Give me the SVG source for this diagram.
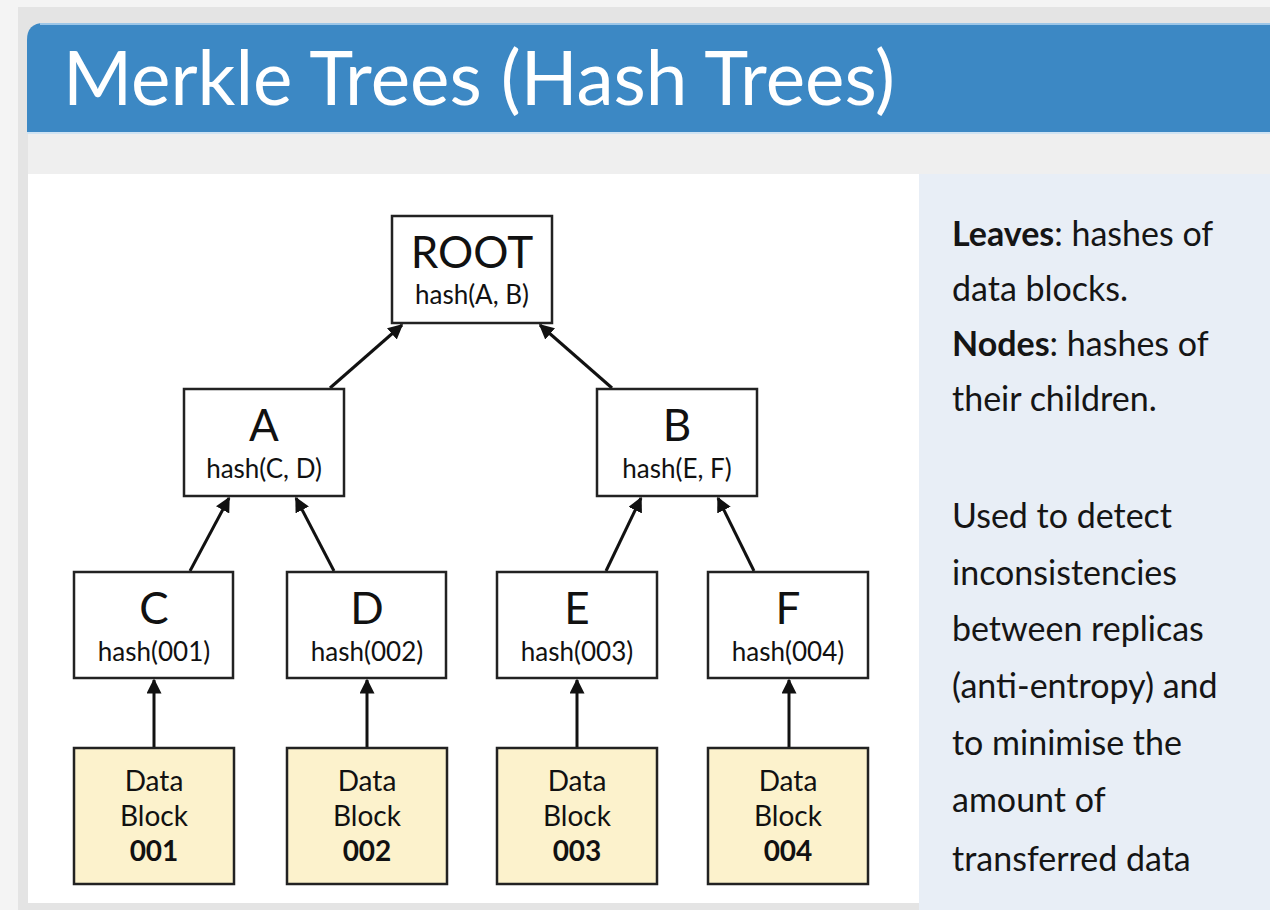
<svg xmlns="http://www.w3.org/2000/svg" width="1270" height="910" viewBox="0 0 1270 910">
  <defs>
    <marker id="arrow" viewBox="0 0 10 10" refX="9" refY="5" markerWidth="5" markerHeight="5" markerUnits="strokeWidth" orient="auto">
      <path d="M0,0 L10,5 L0,10 z" fill="#111"/>
    </marker>
    <style>
      .node { fill: #ffffff; stroke: #222; stroke-width: 2.5; }
      .block { fill: #fcf2cc; stroke: #222; stroke-width: 2.5; }
      .big { font-family: Lato, "Liberation Sans", sans-serif; font-size: 44px; fill: #111; text-anchor: middle; }
      .small { font-family: Lato, "Liberation Sans", sans-serif; font-size: 26px; fill: #111; text-anchor: middle; }
      .blk { font-family: Lato, "Liberation Sans", sans-serif; font-size: 28px; fill: #111; text-anchor: middle; }
      .blkb { font-family: Lato, "Liberation Sans", sans-serif; font-size: 28px; font-weight: bold; fill: #111; text-anchor: middle; }
      .side { font-family: Lato, "Liberation Sans", sans-serif; font-size: 34px; fill: #151515; }
      .edge { stroke: #111; stroke-width: 3; fill: none; marker-end: url(#arrow); }
    </style>
  </defs>

  <!-- page background -->
  <rect x="0" y="0" width="1270" height="910" fill="#f4f4f4"/>
  <rect x="18" y="7" width="1252" height="903" fill="#e4e4e4"/>

  <!-- title bar -->
  <path d="M27,40 Q27,23 44,23 L1270,23 L1270,132 L27,132 z" fill="#3c88c4"/>
  <line x1="40" y1="24" x2="1270" y2="24" stroke="#9cc6e8" stroke-width="2"/>
  <line x1="27" y1="133" x2="1270" y2="133" stroke="#cfe3f3" stroke-width="2"/>
  <text x="63" y="105" font-family="Lato, 'Liberation Sans', sans-serif" font-size="76" fill="#ffffff" textLength="832" lengthAdjust="spacingAndGlyphs">Merkle Trees (Hash Trees)</text>

  <!-- band under title -->
  <rect x="28" y="134" width="1242" height="40" fill="#efefef"/>

  <!-- diagram panel and notes panel -->
  <rect x="28" y="174" width="891" height="729" fill="#ffffff"/>
  <rect x="919" y="174" width="351" height="736" fill="#e8eef6"/>

  <!-- connectors -->
  <g id="connectors">
    <line class="edge" x1="154" y1="748" x2="154" y2="680"/>
    <line class="edge" x1="367" y1="748" x2="367" y2="680"/>
    <line class="edge" x1="577" y1="748" x2="577" y2="680"/>
    <line class="edge" x1="789" y1="748" x2="789" y2="680"/>
    <line class="edge" x1="190" y1="571" x2="229" y2="498"/>
    <line class="edge" x1="334" y1="571" x2="296" y2="498"/>
    <line class="edge" x1="606" y1="571" x2="641" y2="498"/>
    <line class="edge" x1="754" y1="571" x2="718" y2="498"/>
    <line class="edge" x1="330" y1="388" x2="402" y2="325"/>
    <line class="edge" x1="612" y1="388" x2="540" y2="325"/>
  </g>

  <!-- tree nodes -->
  <g id="node-root">
    <rect class="node" x="392" y="216" width="160" height="107"/>
    <text class="big" x="472" y="268">ROOT</text>
    <text class="small" x="472" y="304">hash(A, B)</text>
  </g>
  <g id="node-a">
    <rect class="node" x="184" y="389" width="160" height="107"/>
    <text class="big" x="264" y="441">A</text>
    <text class="small" x="264" y="478">hash(C, D)</text>
  </g>
  <g id="node-b">
    <rect class="node" x="597" y="389" width="160" height="107"/>
    <text class="big" x="677" y="441">B</text>
    <text class="small" x="677" y="478">hash(E, F)</text>
  </g>
  <g id="node-c">
    <rect class="node" x="74" y="572" width="159" height="106"/>
    <text class="big" x="154" y="624">C</text>
    <text class="small" x="154" y="661">hash(001)</text>
  </g>
  <g id="node-d">
    <rect class="node" x="287" y="572" width="159" height="106"/>
    <text class="big" x="367" y="624">D</text>
    <text class="small" x="367" y="661">hash(002)</text>
  </g>
  <g id="node-e">
    <rect class="node" x="497" y="572" width="160" height="106"/>
    <text class="big" x="577" y="624">E</text>
    <text class="small" x="577" y="661">hash(003)</text>
  </g>
  <g id="node-f">
    <rect class="node" x="708" y="572" width="160" height="106"/>
    <text class="big" x="788" y="624">F</text>
    <text class="small" x="788" y="661">hash(004)</text>
  </g>

  <!-- data blocks -->
  <g id="block-001">
    <rect class="block" x="74" y="748" width="160" height="136"/>
    <text class="blk" x="154" y="791">Data</text>
    <text class="blk" x="154" y="826">Block</text>
    <text class="blkb" x="154" y="861">001</text>
  </g>
  <g id="block-002">
    <rect class="block" x="287" y="748" width="160" height="136"/>
    <text class="blk" x="367" y="791">Data</text>
    <text class="blk" x="367" y="826">Block</text>
    <text class="blkb" x="367" y="861">002</text>
  </g>
  <g id="block-003">
    <rect class="block" x="497" y="748" width="160" height="136"/>
    <text class="blk" x="577" y="791">Data</text>
    <text class="blk" x="577" y="826">Block</text>
    <text class="blkb" x="577" y="861">003</text>
  </g>
  <g id="block-004">
    <rect class="block" x="708" y="748" width="160" height="136"/>
    <text class="blk" x="788" y="791">Data</text>
    <text class="blk" x="788" y="826">Block</text>
    <text class="blkb" x="788" y="861">004</text>
  </g>

  <!-- notes -->
  <g id="notes">
    <text class="side" x="952" y="246"><tspan font-weight="bold">Leaves</tspan>: hashes of</text>
    <text class="side" x="952" y="301">data blocks.</text>
    <text class="side" x="952" y="356"><tspan font-weight="bold">Nodes</tspan>: hashes of</text>
    <text class="side" x="952" y="411">their children.</text>
    <text class="side" x="952" y="528">Used to detect</text>
    <text class="side" x="952" y="585">inconsistencies</text>
    <text class="side" x="952" y="641">between replicas</text>
    <text class="side" x="952" y="698">(anti-entropy) and</text>
    <text class="side" x="952" y="755">to minimise the</text>
    <text class="side" x="952" y="812">amount of</text>
    <text class="side" x="952" y="871">transferred data</text>
  </g>
</svg>
